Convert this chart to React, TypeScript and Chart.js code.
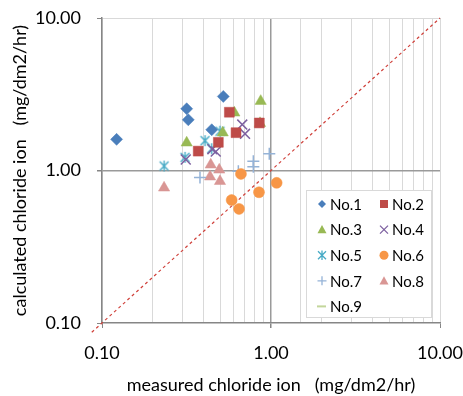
import React, { useEffect, useRef } from 'react';
import { Chart, registerables } from 'chart.js';

Chart.register(...registerables);

// ---- data ----
const seriesNames = ['No.1', 'No.2', 'No.3', 'No.4', 'No.5', 'No.6', 'No.7', 'No.8', 'No.9'];

const no1Measured = [0.122, 0.317, 0.324, 0.522, 0.446];
const no1Calculated = [1.60, 2.54, 2.15, 3.06, 1.85];

const no2Measured = [0.567, 0.853, 0.621, 0.488, 0.371];
const no2Calculated = [2.41, 2.05, 1.77, 1.53, 1.34];

const no3Measured = [0.869, 0.607, 0.861, 0.518, 0.317];
const no3Calculated = [2.85, 2.39, 2.04, 1.77, 1.52];

const no4Measured = [0.676, 0.702, 0.471, 0.313, 0.45];
const no4Calculated = [2.0, 1.74, 1.33, 1.18, 1.38];

const no5Measured = [0.233, 0.31, 0.407, 0.499, 0.446];
const no5Calculated = [1.07, 1.22, 1.57, 1.81, 1.39];

const no6Measured = [0.664, 1.08, 0.849, 0.585, 0.647];
const no6Calculated = [0.95, 0.83, 0.72, 0.64, 0.56];

const no7Measured = [0.38, 0.641, 0.786, 0.786, 0.977];
const no7Calculated = [0.90, 0.99, 1.15, 1.06, 1.29];

const no8Measured = [0.233, 0.44, 0.494, 0.436, 0.499];
const no8Calculated = [0.77, 1.09, 1.01, 0.91, 0.85];

const no9Measured: number[] = [];
const no9Calculated: number[] = [];

const referenceLine = [0.087, 10];

const axisMin = 0.1;
const axisMax = 10;

const xTitle = 'measured chloride ion   (mg/dm2/hr)';
const yTitle = 'calculated chloride ion   (mg/dm2/hr)';

// ---- styles ----
const colors = ['#4a7ebb', '#be4b48', '#98b954', '#7d60a0', '#46aac5', '#f79646', '#95b3d7', '#d99694', '#c3d69b'];
const FONT = 'Lato, "Open Sans", "DejaVu Sans", sans-serif';

function pairs(xs: number[], ys: number[]) {
  return xs.map((x, i) => ({ x, y: ys[i] }));
}

function makeStar(color: string, size: number, lw: number) {
  const c = document.createElement('canvas');
  c.width = size;
  c.height = size;
  const g = c.getContext('2d')!;
  g.strokeStyle = color;
  g.lineWidth = lw;
  const m = size / 2;
  const r = size / 2 - 1;
  const d = r * 0.8;
  g.beginPath();
  g.moveTo(m - d, m - d); g.lineTo(m + d, m + d);
  g.moveTo(m + d, m - d); g.lineTo(m - d, m + d);
  g.moveTo(m, m - r); g.lineTo(m, m + r);
  g.stroke();
  return c;
}

function drawMarker(ctx: CanvasRenderingContext2D, kind: string, x: number, y: number, r: number, color: string) {
  ctx.save();
  ctx.fillStyle = color;
  ctx.strokeStyle = color;
  ctx.lineWidth = 1.3;
  ctx.beginPath();
  if (kind === 'diamond') {
    ctx.moveTo(x, y - r); ctx.lineTo(x + r, y); ctx.lineTo(x, y + r); ctx.lineTo(x - r, y); ctx.closePath(); ctx.fill();
  } else if (kind === 'square') {
    ctx.rect(x - r, y - r, 2 * r, 2 * r); ctx.fill();
  } else if (kind === 'triangle') {
    ctx.moveTo(x, y - r); ctx.lineTo(x + r, y + r * 0.8); ctx.lineTo(x - r, y + r * 0.8); ctx.closePath(); ctx.fill();
  } else if (kind === 'x') {
    ctx.moveTo(x - r, y - r); ctx.lineTo(x + r, y + r); ctx.moveTo(x + r, y - r); ctx.lineTo(x - r, y + r); ctx.stroke();
  } else if (kind === 'star') {
    ctx.moveTo(x - r, y - r); ctx.lineTo(x + r, y + r); ctx.moveTo(x + r, y - r); ctx.lineTo(x - r, y + r);
    ctx.moveTo(x, y - r * 1.2); ctx.lineTo(x, y + r * 1.2); ctx.stroke();
  } else if (kind === 'circle') {
    ctx.arc(x, y, r, 0, Math.PI * 2); ctx.fill();
  } else if (kind === 'plus') {
    ctx.moveTo(x - r, y); ctx.lineTo(x + r, y); ctx.moveTo(x, y - r); ctx.lineTo(x, y + r); ctx.stroke();
  } else if (kind === 'line') {
    ctx.lineWidth = 2;
    ctx.moveTo(x - 5, y); ctx.lineTo(x + 4, y); ctx.stroke();
  }
  ctx.restore();
}

const legendKinds = ['diamond', 'square', 'triangle', 'x', 'star', 'circle', 'plus', 'triangle', 'line'];

const insideLegend = {
  id: 'insideLegend',
  afterDraw(chart: any) {
    const ctx: CanvasRenderingContext2D = chart.ctx;
    const area = chart.chartArea;
    const left = area.right - 134;
    const top = area.bottom - 133;
    const w = 126;
    const h = 128;
    ctx.save();
    ctx.fillStyle = '#ffffff';
    ctx.fillRect(left, top, w, h);
    ctx.strokeStyle = '#d9d9d9';
    ctx.lineWidth = 1;
    ctx.strokeRect(left + 0.5, top + 0.5, w - 1, h - 1);
    ctx.font = '15px ' + FONT;
    ctx.fillStyle = '#000';
    ctx.textBaseline = 'middle';
    ctx.textAlign = 'left';
    const sizes = [4, 4, 4.5, 4, 4, 4.5, 4.5, 4.5, 4];
    seriesNames.forEach((name, i) => {
      const col = i % 2;
      const row = Math.floor(i / 2);
      const mx = left + 16 + col * 62;
      const my = top + 14 + row * 25.6;
      drawMarker(ctx, legendKinds[i], mx, my, sizes[i], colors[i]);
      ctx.fillStyle = '#000';
      ctx.fillText(name, mx + 8, my + 1);
    });
    ctx.restore();
  },
};

function isMajor(v: number) {
  const l = Math.log10(v);
  return Math.abs(l - Math.round(l)) < 1e-6;
}

export default function App() {
  const ref = useRef<HTMLCanvasElement>(null);

  useEffect(() => {
    if (!ref.current) return;
    const star = makeStar(colors[4], 13, 1.4);
    const pointStyles: any[] = ['rectRot', 'rect', 'triangle', 'crossRot', star, 'circle', 'cross', 'triangle', 'line'];
    const radii = [6, 7, 6.5, 7, 6, 5.5, 6, 6.5, 4];
    const xsList = [no1Measured, no2Measured, no3Measured, no4Measured, no5Measured, no6Measured, no7Measured, no8Measured, no9Measured];
    const ysList = [no1Calculated, no2Calculated, no3Calculated, no4Calculated, no5Calculated, no6Calculated, no7Calculated, no8Calculated, no9Calculated];

    const datasets: any[] = seriesNames.map((name, i) => ({
      type: 'scatter',
      label: name,
      data: pairs(xsList[i], ysList[i]),
      pointStyle: pointStyles[i],
      pointRadius: radii[i],
      backgroundColor: colors[i],
      borderColor: colors[i],
      pointBorderWidth: i === 3 || i === 6 ? 1.5 : 0.5,
      showLine: false,
    }));

    datasets.push({
      type: 'line',
      label: 'ref',
      data: pairs(referenceLine, referenceLine),
      borderColor: '#d0403a',
      borderWidth: 1.2,
      borderDash: [3, 3],
      pointRadius: 0,
      clip: false,
      order: 10,
    });

    const chart = new Chart(ref.current, {
      type: 'scatter',
      data: { datasets },
      options: {
        animation: false,
        responsive: false,
        layout: { padding: { top: 18, right: 23, left: 0, bottom: 0 } },
        plugins: { legend: { display: false }, tooltip: { enabled: false } },
        scales: {
          x: {
            type: 'logarithmic',
            min: axisMin,
            max: axisMax,
            afterFit: (s: any) => { s.height = 73; s.paddingLeft = 0; s.paddingRight = 0; },
            border: { color: '#868686', width: 1.5 },
            grid: {
              color: (c: any) => (c.tick && c.tick.value === 1 ? '#9a9a9a' : '#d9d9d9'),
              lineWidth: (c: any) => (c.tick && c.tick.value === 1 ? 1.5 : 1),
              tickColor: (c: any) => (c.tick && isMajor(c.tick.value) ? '#868686' : 'rgba(0,0,0,0)'),
              tickLength: 5,
              drawTicks: true,
            },
            ticks: {
              autoSkip: false,
              maxRotation: 0,
              padding: 14,
              color: '#000',
              font: { family: FONT, size: 18 },
              callback: (v: any) => (isMajor(Number(v)) ? Number(v).toFixed(2) : ''),
            },
            title: {
              display: true,
              text: xTitle,
              color: '#000',
              font: { family: FONT, size: 18 },
              padding: { top: 0, bottom: 0 },
            },
          },
          y: {
            type: 'logarithmic',
            min: axisMin,
            max: axisMax,
            afterFit: (s: any) => { s.width = 102; s.paddingTop = 0; s.paddingBottom = 0; },
            border: { color: '#868686', width: 1.5 },
            grid: {
              color: (c: any) => {
                const v = c.tick ? c.tick.value : 0;
                if (v === 1) return '#9a9a9a';
                if (v === 10) return '#d9d9d9';
                return 'rgba(0,0,0,0)';
              },
              lineWidth: (c: any) => (c.tick && c.tick.value === 1 ? 1.5 : 1),
              tickColor: (c: any) => (c.tick && isMajor(c.tick.value) ? '#868686' : 'rgba(0,0,0,0)'),
              tickLength: 5,
              drawTicks: true,
            },
            ticks: {
              autoSkip: false,
              padding: 16,
              color: '#000',
              font: { family: FONT, size: 18 },
              callback: (v: any) => (isMajor(Number(v)) ? Number(v).toFixed(2) : ''),
            },
            title: {
              display: true,
              text: yTitle,
              color: '#000',
              font: { family: FONT, size: 18 },
              padding: { top: 9, bottom: 0 },
            },
          },
        },
      },
      plugins: [insideLegend],
    } as any);

    return () => chart.destroy();
  }, []);

  return (
    <div style={{ position: 'absolute', left: 0, top: 0, width: 463, height: 396, background: '#fff' }}>
      <canvas ref={ref} width={463} height={396} style={{ display: 'block' }} />
    </div>
  );
}
